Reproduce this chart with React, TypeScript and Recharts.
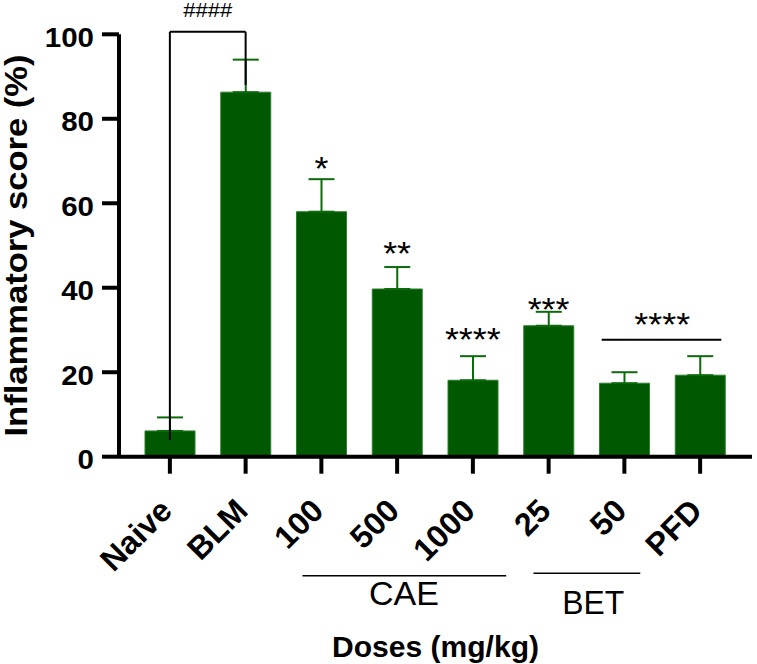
import React from 'react';
import { BarChart, Bar, XAxis, YAxis, ErrorBar, ReferenceLine, ReferenceDot } from 'recharts';

// mean and SD per group (only the upper whisker is drawn)
const groups = ['Naive', 'BLM', '100', '500', '1000', '25', '50', 'PFD'];
const means = [6.1, 86.3, 58.0, 39.7, 18.1, 31.0, 17.4, 19.3];
const sds = [3.2, 7.7, 7.7, 5.2, 5.7, 3.3, 2.6, 4.5];
const yTicks = [0, 20, 40, 60, 80, 100];

// significance marks vs BLM (x = group index, y = score units at glyph centre)
const starText = ['*', '**', '****', '***', '****'];
const starX = [2, 3, 4, 5, 6.5];
const starY = [70.0, 50.0, 29.6, 36.7, 33.1];

// dose groups under the x axis
const doseNames = ['CAE', 'BET'];
const doseFrom = [1.75, 4.8];
const doseTo = [4.44, 6.21];
const doseMid = [3.09, 5.59];
const doseLineY = [-28.2, -27.6];
const doseTextY = [-35.0, -37.2];

const FONT = "Arial, 'Liberation Sans', sans-serif";
const BAR = '#005800';
const WHISKER = '#0b6b0b';

// plot spans x 119..752, the category axis is padded 13/14 px, so band = 75.75 px
const PAD_L = 13;
const PAD_R = 14;
const BAND = (752 - 119 - PAD_L - PAD_R) / groups.length;

const data = groups.map((g, i) => ({ group: g, idx: i, score: means[i], err: [0, sds[i]] }));

const YTick = (props: any) => {
	const s = String(props.payload.value);
	return (
		<text x={props.x} y={props.y} dy={12.5} textAnchor="end" fontFamily={FONT} fontWeight="bold" fontSize={27} fill="#000"
			textLength={s.length * 16.4} lengthAdjust="spacingAndGlyphs">
			{s}
		</text>
	);
};

const XTick = (props: any) => (
	<g transform={`translate(${props.x + 4},${props.y + 37}) rotate(-45)`}>
		<text x={0} y={0} textAnchor="end" fontFamily={FONT} fontWeight="bold" fontSize={32} fill="#000">
			{props.payload.value}
		</text>
	</g>
);

const YTitle = (props: any) => {
	const vb = props.viewBox;
	const x = vb.x + 27;
	const cy = vb.y + vb.height / 2;
	return (
		<text x={x} y={cy} transform={`rotate(-90, ${x}, ${cy})`} textAnchor="middle" fontFamily={FONT} fontWeight="bold" fontSize={31} fill="#000"
			textLength={382} lengthAdjust="spacingAndGlyphs">
			Inflammatory score (%)
		</text>
	);
};

const XTitle = (props: any) => {
	const vb = props.viewBox;
	return (
		<text x={vb.x + vb.width / 2} y={vb.y + vb.height - 7} textAnchor="middle" fontFamily={FONT} fontWeight="bold" fontSize={29} fill="#000"
			textLength={207} lengthAdjust="spacingAndGlyphs">
			Doses (mg/kg)
		</text>
	);
};

const textShape = (label: string, size: number, dy: number, len?: number) => (p: any) => (
	<text x={p.cx} y={p.cy} dy={dy} textAnchor="middle" fontFamily={FONT} fontSize={size} fill="#000"
		textLength={len} lengthAdjust={len ? 'spacingAndGlyphs' : undefined}>
		{label}
	</text>
);

export default function App() {
	return (
		<div style={{ position: 'absolute', left: 0, top: 0, width: 757, height: 664, background: '#fff' }}>
			<BarChart width={757} height={664} data={data} margin={{ top: 34.3, right: 5, bottom: 0, left: 0 }}>
				<XAxis
					dataKey="group"
					interval={0}
					padding={{ left: PAD_L, right: PAD_R }}
					height={207.3}
					tickSize={17}
					tick={<XTick />}
					axisLine={{ stroke: '#000', strokeWidth: 4 }}
					tickLine={{ stroke: '#000', strokeWidth: 4 }}
					label={<XTitle />}
				/>
				{/* hidden index axis for annotations: index i sits on the centre of band i */}
				<XAxis
					xAxisId="pos"
					dataKey="idx"
					type="number"
					domain={[0, groups.length - 1]}
					allowDataOverflow
					hide
					padding={{ left: PAD_L + BAND / 2, right: PAD_R + BAND / 2 }}
				/>
				<YAxis
					width={119}
					domain={[0, 100]}
					ticks={yTicks}
					tickSize={17}
					tickMargin={8}
					tick={<YTick />}
					axisLine={{ stroke: '#000', strokeWidth: 4 }}
					tickLine={{ stroke: '#000', strokeWidth: 4 }}
					label={<YTitle />}
				/>
				<Bar dataKey="score" barSize={50} fill={BAR} stroke="#2f7f2f" strokeWidth={1} isAnimationActive={false}>
					<ErrorBar dataKey="err" direction="y" width={13} stroke={WHISKER} strokeWidth={2} isAnimationActive={false} />
				</Bar>

				{/* #### bracket Naive vs BLM */}
				<ReferenceLine xAxisId="pos" segment={[{ x: 0, y: 100.6 }, { x: 1, y: 100.6 }]} stroke="#000" strokeWidth={2} ifOverflow="visible" />
				<ReferenceLine xAxisId="pos" segment={[{ x: 0, y: 100.6 }, { x: 0, y: 3.95 }]} stroke="#000" strokeWidth={2} ifOverflow="visible" />
				<ReferenceLine xAxisId="pos" segment={[{ x: 1, y: 100.6 }, { x: 1, y: 88.0 }]} stroke="#000" strokeWidth={2} ifOverflow="visible" />
				<ReferenceDot xAxisId="pos" x={0.5} y={105.75} r={0} ifOverflow="visible" shape={textShape('####', 20, 7, 49)} />

				{/* stars */}
				{starText.map((s, i) => (
					<ReferenceDot key={'s' + i} xAxisId="pos" x={starX[i]} y={starY[i]} r={0} ifOverflow="visible"
						shape={textShape(s, 34, 19, s.length * 14)} />
				))}
				<ReferenceLine xAxisId="pos" segment={[{ x: 5.7, y: 27.7 }, { x: 7.28, y: 27.7 }]} stroke="#000" strokeWidth={2} ifOverflow="visible" />

				{/* dose groups */}
				{doseNames.map((d, i) => (
					<ReferenceLine key={'l' + d} xAxisId="pos" segment={[{ x: doseFrom[i], y: doseLineY[i] }, { x: doseTo[i], y: doseLineY[i] }]}
						stroke="#000" strokeWidth={1.5} ifOverflow="visible" />
				))}
				{doseNames.map((d, i) => (
					<ReferenceDot key={'t' + d} xAxisId="pos" x={doseMid[i]} y={doseTextY[i]} r={0} ifOverflow="visible"
						shape={textShape(d, 34, 0, d === 'CAE' ? 70 : 62)} />
				))}
			</BarChart>
		</div>
	);
}
